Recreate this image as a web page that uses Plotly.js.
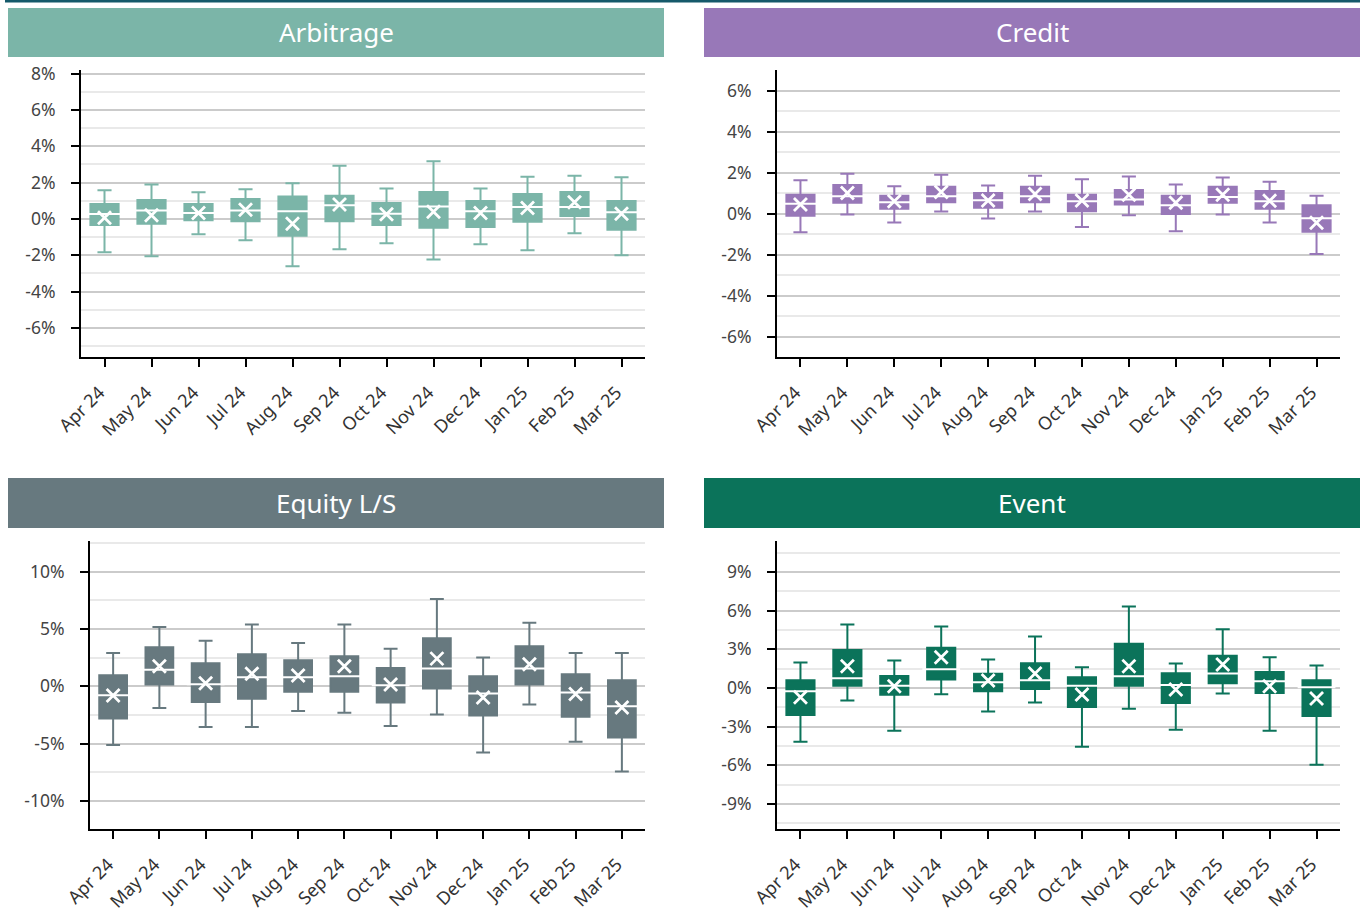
<!DOCTYPE html>
<html>
<head>
<meta charset="utf-8">
<script src="https://cdn.plot.ly/plotly-3.0.1.min.js"></script>
<style>html,body{margin:0;padding:0;background:#fff;}#chart{width:1367px;height:913px;}</style>
</head>
<body>
<div id="chart"></div>
<script>
const months = ["Apr 24","May 24","Jun 24","Jul 24","Aug 24","Sep 24","Oct 24","Nov 24","Dec 24","Jan 25","Feb 25","Mar 25"];

// Arbitrage (%)
const arbitrageLow    = [-1.83,-2.05,-0.84,-1.17,-2.60,-1.67,-1.34,-2.23,-1.39,-1.72,-0.79,-2.00];
const arbitrageQ1     = [-0.33,-0.27,-0.07,-0.13,-0.93,-0.13,-0.33,-0.49,-0.44,-0.16, 0.16,-0.60];
const arbitrageMedian = [ 0.27, 0.46, 0.33, 0.46, 0.42, 0.75, 0.29, 0.68, 0.42, 0.66, 0.66, 0.37];
const arbitrageQ3     = [ 0.82, 1.04, 0.82, 1.10, 1.23, 1.28, 0.88, 1.48, 0.99, 1.37, 1.48, 0.99];
const arbitrageHigh   = [ 1.58, 1.89, 1.47, 1.63, 1.96, 2.93, 1.68, 3.17, 1.68, 2.33, 2.38, 2.29];
const arbitrageMean   = [ 0.07, 0.20, 0.33, 0.51,-0.26, 0.79, 0.26, 0.40, 0.33, 0.60, 0.92, 0.29];
const arbitrageTicks  = [-6,-4,-2,0,2,4,6,8];

// Credit (%)
const creditLow    = [-0.92,-0.05,-0.44, 0.10,-0.24, 0.10,-0.66,-0.08,-0.87,-0.05,-0.44,-1.97];
const creditQ1     = [-0.11, 0.52, 0.23, 0.55, 0.28, 0.55, 0.11, 0.44,-0.02, 0.52, 0.23,-0.89];
const creditMedian = [ 0.47, 0.84, 0.55, 0.84, 0.65, 0.84, 0.60, 0.68, 0.40, 0.81, 0.60,-0.23];
const creditQ3     = [ 0.91, 1.39, 0.87, 1.31, 1.00, 1.31, 0.91, 1.15, 0.87, 1.31, 1.10, 0.40];
const creditHigh   = [ 1.62, 1.94, 1.33, 1.89, 1.36, 1.84, 1.67, 1.80, 1.41, 1.76, 1.55, 0.87];
const creditMean   = [ 0.44, 1.00, 0.60, 1.05, 0.63, 0.95, 0.63, 0.92, 0.52, 0.91, 0.62,-0.45];
const creditTicks  = [-6,-4,-2,0,2,4,6];

// Equity L/S (%)
const equityLow    = [-5.12,-1.89,-3.55,-3.55,-2.15,-2.30,-3.46,-2.47,-5.78,-1.60,-4.83,-7.44];
const equityQ1     = [-2.82, 0.15,-1.37,-1.08,-0.47,-0.47,-1.42,-0.20,-2.56, 0.15,-2.65,-4.48];
const equityMedian = [-0.78, 1.45, 0.17, 0.78, 0.78, 0.87, 0.09, 1.54,-0.64, 1.54,-0.55,-1.74];
const equityQ3     = [ 0.96, 3.40, 2.00, 2.79, 2.27, 2.62, 1.60, 4.19, 0.87, 3.49, 1.05, 0.52];
const equityHigh   = [ 2.91, 5.17, 3.98, 5.38, 3.78, 5.38, 3.28, 7.62, 2.50, 5.55, 2.91, 2.91];
const equityMean   = [-0.81, 1.74, 0.26, 1.10, 0.93, 1.74, 0.15, 2.41,-0.99, 1.92,-0.67,-1.86];
const equityTicks  = [-10,-5,0,5,10];

// Event (%)
const eventLow    = [-4.17,-0.98,-3.32,-0.49,-1.84,-1.14,-4.56,-1.61,-3.24,-0.44,-3.32,-5.96];
const eventQ1     = [-2.10, 0.16,-0.54, 0.65,-0.26,-0.08,-1.48, 0.16,-1.17, 0.36,-0.39,-2.18];
const eventMedian = [-0.26, 0.75, 0.16, 1.45, 0.44, 0.60, 0.16, 0.91, 0.23, 1.11, 0.52, 0.05];
const eventQ3     = [ 0.60, 2.95, 0.93, 3.11, 1.09, 1.92, 0.83, 3.42, 1.14, 2.49, 1.24, 0.60];
const eventHigh   = [ 1.97, 4.92, 2.12, 4.77, 2.20, 3.99, 1.61, 6.32, 1.89, 4.56, 2.38, 1.74];
const eventMean   = [-0.73, 1.68, 0.13, 2.38, 0.57, 1.11,-0.52, 1.68,-0.13, 1.81, 0.13,-0.83];
const eventTicks  = [-9,-6,-3,0,3,6,9];

const panels = [
  {name:"Arbitrage",  color:"#7bb5a8", low:arbitrageLow, q1:arbitrageQ1, med:arbitrageMedian, q3:arbitrageQ3, high:arbitrageHigh, mean:arbitrageMean, ticks:arbitrageTicks,
   xd:[81,645], yd:[70,357], range:[-7.6,8.2], minor:1, banner:[8,664,8,57]},
  {name:"Credit",     color:"#9878b8", low:creditLow, q1:creditQ1, med:creditMedian, q3:creditQ3, high:creditHigh, mean:creditMean, ticks:creditTicks,
   xd:[777,1340], yd:[70,357], range:[-7,7], minor:1, banner:[704,1360,8,57]},
  {name:"Equity L/S", color:"#67797f", low:equityLow, q1:equityQ1, med:equityMedian, q3:equityQ3, high:equityHigh, mean:equityMean, ticks:equityTicks,
   xd:[90,645], yd:[541,829], range:[-12.45,12.67], minor:2.5, banner:[8,664,478,528]},
  {name:"Event",      color:"#0b735a", low:eventLow, q1:eventQ1, med:eventMedian, q3:eventQ3, high:eventHigh, mean:eventMean, ticks:eventTicks,
   xd:[777,1340], yd:[541,829], range:[-10.95,11.4], minor:1.5, banner:[704,1360,478,528]}
];

const W = 1367, H = 913;
const fx = v => v / W;
const fy = v => 1 - v / H;
const FONT = "Noto Sans, sans-serif";

const data = [];
const layout = {
  width: W, height: H,
  margin: {l:0, r:0, t:0, b:0},
  paper_bgcolor: "#fff", plot_bgcolor: "#fff",
  showlegend: false,
  font: {family: FONT, color: "#444"},
  shapes: [
    {type:"rect", xref:"paper", yref:"paper", x0:fx(5), x1:fx(1360), y0:fy(0), y1:fy(2.5), fillcolor:"#15596a", line:{width:0}, layer:"above"}
  ],
  annotations: []
};

panels.forEach((p, i) => {
  const n = i === 0 ? "" : String(i + 1);
  const xa = "x" + n, ya = "y" + n;
  data.push({
    type: "box", xaxis: xa, yaxis: ya,
    x: months, q1: p.q1, median: p.med, q3: p.q3, lowerfence: p.low, upperfence: p.high,
    fillcolor: p.color, line: {color: p.color, width: 2}, width: 0.6, whiskerwidth: 0.5,
    boxpoints: false, hoverinfo: "skip"
  });
  data.push({
    type: "scatter", mode: "markers", xaxis: xa, yaxis: ya,
    x: months, y: p.med,
    marker: {symbol: "line-ew", size: 27, color: "#fff", line: {color: "#fff", width: 2}},
    hoverinfo: "skip"
  });
  data.push({
    type: "scatter", mode: "markers", xaxis: xa, yaxis: ya,
    x: months, y: p.mean,
    marker: {symbol: "x-thin", size: 13, color: "#fff", line: {color: "#fff", width: 2.8}},
    hoverinfo: "skip"
  });

  layout["xaxis" + n] = {
    domain: [fx(p.xd[0]), fx(p.xd[1])], anchor: ya,
    type: "category", categoryorder: "array", categoryarray: months,
    range: [-0.5, 11.5], tickangle: -45,
    ticks: "outside", ticklen: 8, tickwidth: 2, tickcolor: "#000",
    ticklabelstandoff: 8, ticklabelshift: -5,
    showline: true, linecolor: "#000", linewidth: 2,
    showgrid: false, zeroline: false,
    tickfont: {family: FONT, size: 18, color: "#333"}, fixedrange: true
  };
  layout["yaxis" + n] = {
    domain: [fy(p.yd[1]), fy(p.yd[0])], anchor: xa,
    range: p.range, tickmode: "array", tickvals: p.ticks, ticktext: p.ticks.map(v => v + "%"),
    ticks: "outside", ticklen: 8, tickwidth: 2, tickcolor: "#000", ticklabelstandoff: 12,
    showline: true, linecolor: "#000", linewidth: 2,
    showgrid: true, gridcolor: "#cbcbcb", gridwidth: 2,
    minor: {dtick: p.minor, tick0: 0, showgrid: true, gridcolor: "#e9e9e9", gridwidth: 2, ticks: ""},
    zeroline: false,
    tickfont: {family: FONT, size: 17.5, color: "#444"}, fixedrange: true
  };

  const b = p.banner;
  layout.shapes.push({type:"rect", xref:"paper", yref:"paper", x0:fx(b[0]), x1:fx(b[1]), y0:fy(b[3]), y1:fy(b[2]), fillcolor:p.color, line:{width:0}});
  layout.annotations.push({
    xref:"paper", yref:"paper", x: fx((b[0]+b[1])/2), y: fy((b[2]+b[3])/2),
    xanchor:"center", yanchor:"middle", showarrow:false,
    text: p.name, font: {family: FONT, size: 26, color: "#fff"}
  });
});

Plotly.newPlot("chart", data, layout, {displayModeBar: false, staticPlot: true});
</script>
</body>
</html>
